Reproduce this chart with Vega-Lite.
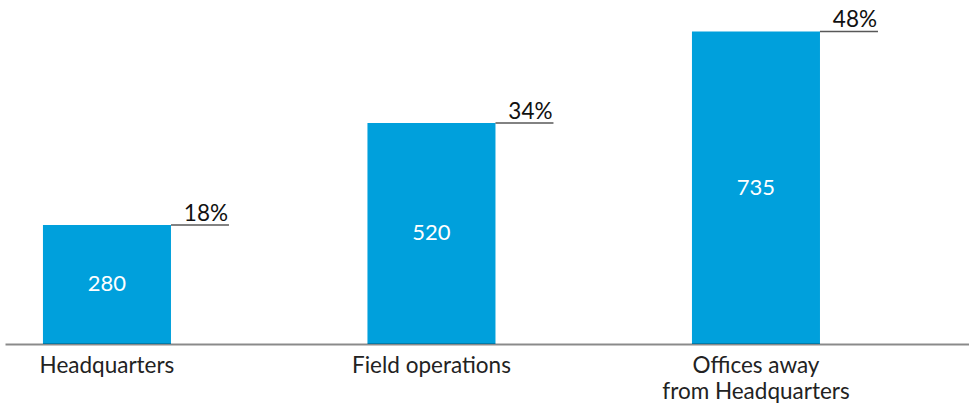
{
  "$schema": "https://vega.github.io/schema/vega-lite/v6.json",
  "width": 964,
  "height": 344,
  "autosize": {"type": "none"},
  "padding": {"left": 5, "top": 0, "right": 0, "bottom": 63},
  "background": "white",
  "config": {"view": {"stroke": null}, "font": "Lato"},
  "data": {
    "values": [
      {"location": "Headquarters", "employees": 280, "share": "18%"},
      {"location": "Field operations", "employees": 520, "share": "34%"},
      {"location": "Offices away|from Headquarters", "employees": 735, "share": "48%"}
    ]
  },
  "encoding": {
    "x": {
      "field": "location",
      "type": "nominal",
      "sort": null,
      "scale": {"paddingInner": 0.6055, "paddingOuter": 0.2881, "align": 0.203},
      "axis": {
        "title": null,
        "labelAngle": 0,
        "ticks": false,
        "domainColor": "black",
        "domainOpacity": 0.46,
        "domainWidth": 2,
        "labelFontSize": 22.5,
        "labelColor": "#222222",
        "labelPadding": 10,
        "labelLineHeight": 26,
        "labelLimit": 0,
        "labelExpr": "split(datum.label, '|')",
        "zindex": 1
      }
    }
  },
  "layer": [
    {
      "mark": {"type": "bar", "color": "#00A0DC"},
      "encoding": {
        "y": {
          "field": "employees",
          "type": "quantitative",
          "scale": {"domain": [0, 809], "nice": false},
          "axis": null
        }
      }
    },
    {
      "transform": [{"calculate": "datum.employees / 2", "as": "mid"}],
      "mark": {"type": "text", "color": "white", "fontSize": 22, "baseline": "middle"},
      "encoding": {
        "y": {"field": "mid", "type": "quantitative", "scale": {"domain": [0, 809], "nice": false}},
        "text": {"field": "employees", "type": "quantitative"}
      }
    },
    {
      "mark": {"type": "tick", "orient": "horizontal", "color": "#111111", "size": 58, "thickness": 1.5, "xOffset": 93},
      "encoding": {
        "y": {"field": "employees", "type": "quantitative", "scale": {"domain": [0, 809], "nice": false}}
      }
    },
    {
      "mark": {"type": "text", "color": "#111111", "fontSize": 22.5, "align": "right", "baseline": "alphabetic", "dx": 57, "dy": -4},
      "encoding": {
        "x": {"field": "location", "type": "nominal", "sort": null, "bandPosition": 1},
        "y": {"field": "employees", "type": "quantitative", "scale": {"domain": [0, 809], "nice": false}},
        "text": {"field": "share", "type": "nominal"}
      }
    }
  ]
}
